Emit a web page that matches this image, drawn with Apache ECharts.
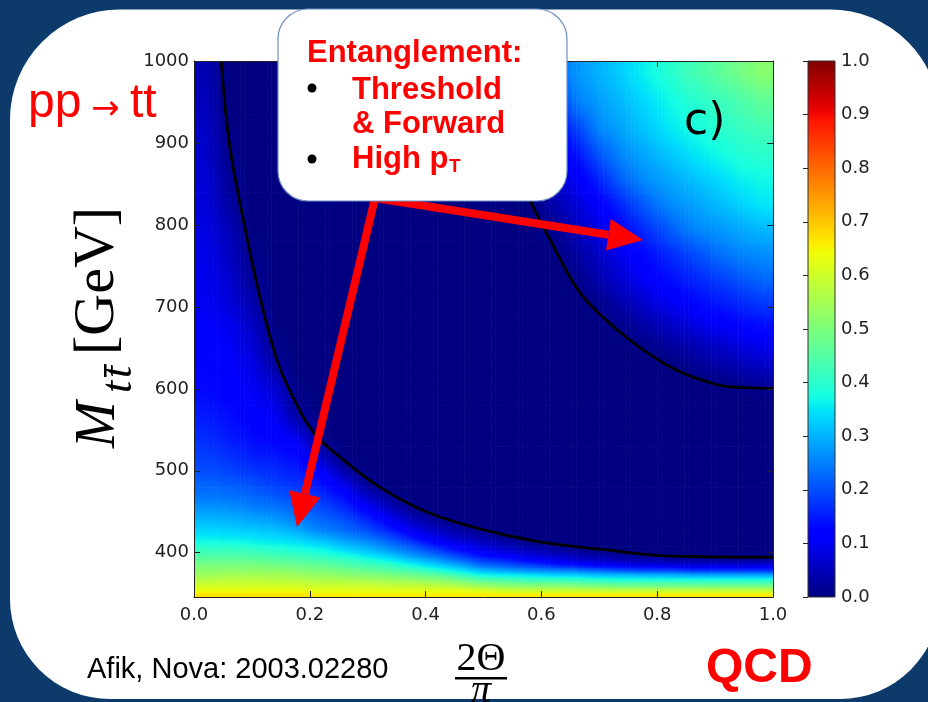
<!DOCTYPE html>
<html>
<head>
<meta charset="utf-8">
<title>Concurrence map, pp → tt̄ (QCD)</title>
<script src="https://cdn.jsdelivr.net/npm/echarts@6.0.0/dist/echarts.min.js"></script>
<style>
  html, body { margin: 0; padding: 0; background: #0b3a6b; }
  #chart { width: 928px; height: 702px; }
</style>
</head>
<body>
<div id="chart"></div>
<script>
// Cell edges of the concurrence map: 2Θ/π across, invariant mass (GeV) up.
const thetaEdges = [0, 0.04, 0.08, 0.12, 0.16, 0.2, 0.24, 0.28, 0.32, 0.36, 0.4, 0.44, 0.48, 0.52,
  0.56, 0.6, 0.64, 0.68, 0.72, 0.76, 0.8, 0.84, 0.88, 0.92, 0.96, 1];
const massEdges = [346, 352, 358, 364, 370, 376, 382, 388, 394, 400, 408, 416, 424, 432, 440, 450,
  460, 470, 480, 492, 504, 516, 530, 545, 560, 580, 600, 620, 640, 665, 690, 720, 750, 780, 810,
  840, 870, 900, 935, 970, 1000];

// Concurrence sampled at each cell centre, one row per mass bin (bottom row first).
const concurrence = [
  [.67,.67,.67,.67,.67,.66,.66,.66,.66,.66,.66,.66,.66,.66,.66,.66,.66,.66,.66,.66,.66,.66,.66,.66,.66],
  [.63,.63,.63,.63,.63,.62,.62,.62,.62,.62,.62,.62,.60,.58,.58,.58,.58,.57,.57,.57,.57,.57,.57,.57,.57],
  [.60,.60,.60,.60,.60,.59,.59,.59,.58,.58,.57,.55,.52,.51,.50,.50,.49,.48,.47,.47,.47,.47,.47,.47,.47],
  [.57,.58,.58,.57,.57,.56,.56,.55,.54,.53,.52,.49,.45,.44,.42,.42,.41,.40,.39,.39,.39,.39,.39,.39,.39],
  [.54,.55,.55,.55,.54,.53,.52,.51,.50,.48,.46,.42,.37,.36,.35,.33,.33,.31,.31,.30,.30,.29,.29,.29,.29],
  [.52,.52,.52,.52,.51,.50,.49,.47,.45,.43,.39,.35,.30,.28,.26,.25,.24,.22,.20,.19,.19,.17,.17,.17,.17],
  [.50,.50,.50,.49,.48,.47,.45,.43,.41,.37,.33,.29,.23,.21,.19,.16,.14,.11,.10,.09,.09,.08,.08,.08,.08],
  [.47,.47,.47,.46,.45,.44,.42,.39,.36,.32,.28,.23,.18,.16,.12,.10,.08,.065,.05,.044,.037,.03,.03,.03,.03],
  [.445,.445,.44,.43,.42,.40,.38,.35,.32,.27,.23,.18,.13,.105,.083,.062,.046,.032,.02,.011,.01,0,0,0,0],
  [.415,.415,.41,.40,.38,.37,.34,.31,.27,.23,.18,.13,.09,.07,.05,.03,.02,0,0,0,0,0,0,0,0],
  [.38,.38,.37,.36,.35,.33,.30,.27,.23,.18,.12,.09,.06,.04,.015,0,0,0,0,0,0,0,0,0,0],
  [.353,.35,.345,.335,.32,.29,.26,.23,.19,.13,.086,.054,.03,.007,0,0,0,0,0,0,0,0,0,0,0],
  [.335,.331,.323,.312,.29,.25,.23,.20,.15,.095,.054,.03,.01,0,0,0,0,0,0,0,0,0,0,0,0],
  [.315,.31,.30,.29,.264,.234,.213,.176,.12,.065,.03,.01,0,0,0,0,0,0,0,0,0,0,0,0,0],
  [.293,.29,.28,.264,.24,.216,.19,.145,.085,.036,.01,0,0,0,0,0,0,0,0,0,0,0,0,0,0],
  [.27,.267,.25,.24,.22,.196,.166,.11,.05,.01,0,0,0,0,0,0,0,0,0,0,0,0,0,0,0],
  [.25,.245,.234,.22,.20,.177,.142,.075,.028,0,0,0,0,0,0,0,0,0,0,0,0,0,0,0,0],
  [.233,.229,.216,.20,.183,.158,.117,.042,.005,0,0,0,0,0,0,0,0,0,0,0,0,0,0,0,0],
  [.22,.21,.20,.183,.169,.137,.082,.013,0,0,0,0,0,0,0,0,0,0,0,0,0,0,0,0,0],
  [.203,.193,.179,.169,.153,.114,.041,0,0,0,0,0,0,0,0,0,0,0,0,0,0,0,0,0,0],
  [.192,.18,.163,.155,.139,.08,.01,0,0,0,0,0,0,0,0,0,0,0,0,0,0,0,0,0,0],
  [.182,.167,.148,.14,.124,.042,0,0,0,0,0,0,0,0,0,0,0,0,0,0,0,0,0,0,0],
  [.17,.152,.137,.123,.103,.01,0,0,0,0,0,0,0,0,0,0,0,0,0,0,0,0,0,0,0],
  [.158,.144,.126,.111,.064,0,0,0,0,0,0,0,0,0,0,0,0,0,0,0,0,0,0,0,0],
  [.148,.135,.116,.098,.023,0,0,0,0,0,0,0,0,0,0,0,0,0,0,0,0,0,0,0,0],
  [.136,.125,.107,.079,.01,0,0,0,0,0,0,0,0,0,0,0,0,0,0,0,0,0,0,0,0],
  [.128,.117,.099,.056,0,0,0,0,0,0,0,0,0,0,0,0,0,0,0,0,0,0,.004,.017,.03],
  [.124,.111,.09,.025,0,0,0,0,0,0,0,0,0,0,0,0,0,0,0,0,0,.017,.032,.047,.062],
  [.12,.104,.077,.01,0,0,0,0,0,0,0,0,0,0,0,0,0,0,0,.005,.023,.041,.059,.078,.096],
  [.112,.097,.063,0,0,0,0,0,0,0,0,0,0,0,0,0,0,0,.011,.034,.057,.08,.103,.123,.134],
  [.10,.08,.04,0,0,0,0,0,0,0,0,0,0,0,0,0,0,.011,.04,.069,.098,.125,.143,.162,.18],
  [.095,.07,.02,0,0,0,0,0,0,0,0,0,0,0,0,0,.007,.041,.075,.11,.136,.159,.182,.205,.228],
  [.09,.06,.01,0,0,0,0,0,0,0,0,0,0,0,0,0,.028,.063,.098,.133,.164,.196,.228,.253,.264],
  [.085,.05,0,0,0,0,0,0,0,0,0,0,0,0,0,.013,.05,.087,.125,.169,.213,.253,.27,.288,.306],
  [.08,.03,0,0,0,0,0,0,0,0,0,0,0,0,0,.035,.075,.115,.165,.217,.258,.281,.304,.328,.35],
  [.073,.02,0,0,0,0,0,0,0,0,0,0,0,0,.014,.059,.103,.159,.222,.263,.287,.31,.334,.358,.37],
  [.067,.01,0,0,0,0,0,0,0,0,0,0,0,0,.032,.082,.137,.207,.26,.289,.317,.346,.368,.385,.40],
  [.06,.005,0,0,0,0,0,0,0,0,0,0,0,0,.057,.112,.186,.256,.288,.32,.352,.374,.393,.412,.43],
  [.052,0,0,0,0,0,0,0,0,0,0,0,0,.03,.09,.163,.25,.28,.31,.34,.37,.393,.417,.44,.467],
  [.045,0,0,0,0,0,0,0,0,0,0,0,0,.056,.12,.215,.27,.30,.33,.364,.395,.427,.457,.486,.515]
];

// Zero-concurrence contours, as (2Θ/π, M) points.
const contourLow = [[0.047,1000],[0.061,900],[0.087,800],[0.118,700],[0.143,636],[0.162,603],
  [0.205,548],[0.257,514],[0.321,480],[0.398,451],[0.494,429],[0.592,414],[0.706,404],[0.822,396],[1.0,394.5]];
const contourHigh = [[0.50,1000],[0.52,950],[0.545,900],[0.58,831],[0.615,782],[0.666,718],
  [0.736,669],[0.822,627],[0.903,605],[0.95,601.5],[1.0,600.5]];

// Matplotlib "jet" colour map.
const JET = {
  r: [[0, 0], [0.35, 0], [0.66, 1], [0.89, 1], [1, 0.5]],
  g: [[0, 0], [0.125, 0], [0.375, 1], [0.64, 1], [0.91, 0], [1, 0]],
  b: [[0, 0.5], [0.11, 1], [0.34, 1], [0.65, 0], [1, 0]]
};
function jetChannel(pts, t) {
  for (let i = 1; i < pts.length; i++) {
    if (t <= pts[i][0]) {
      const [x0, y0] = pts[i - 1], [x1, y1] = pts[i];
      return y0 + (y1 - y0) * (t - x0) / (x1 - x0);
    }
  }
  return pts[pts.length - 1][1];
}
function jet(t) {
  t = Math.max(0, Math.min(1, t));
  const c = ch => Math.round(255 * jetChannel(JET[ch], t));
  return `rgb(${c('r')},${c('g')},${c('b')})`;
}
const jetStops = [];
for (let i = 0; i <= 128; i++) jetStops.push({ offset: i / 128, color: jet(i / 128) });

// Sample points at cell centres.
const thetaCenters = thetaEdges.slice(0, -1).map((e, j) => (e + thetaEdges[j + 1]) / 2);
const massCenters = massEdges.slice(0, -1).map((e, i) => (e + massEdges[i + 1]) / 2);
const nCols = thetaCenters.length;
const samples = [];
concurrence.forEach((row, i) => row.forEach((v, j) => samples.push([thetaCenters[j], massCenters[i], v])));

// Gouraud-style shading between neighbouring samples (clamped at the plot edges).
function bracket(centers, v) {
  const n = centers.length;
  if (v <= centers[0]) return [0, 0, 0];
  if (v >= centers[n - 1]) return [n - 1, n - 1, 0];
  let k = 0;
  while (centers[k + 1] < v) k++;
  return [k, k + 1, (v - centers[k]) / (centers[k + 1] - centers[k])];
}
function shade(theta, m) {
  const [i0, i1, u] = bracket(massCenters, m);
  const [j0, j1, t] = bracket(thetaCenters, theta);
  const lo = concurrence[i0][j0] * (1 - t) + concurrence[i0][j1] * t;
  const hi = concurrence[i1][j0] * (1 - t) + concurrence[i1][j1] * t;
  return lo * (1 - u) + hi * u;
}
const STRIPS = 6;
function renderCell(params, api) {
  const k = params.dataIndex;
  const i = Math.floor(k / nCols), j = k % nCols;
  const x0 = thetaEdges[j], x1 = thetaEdges[j + 1];
  const m0 = massEdges[i], m1 = massEdges[i + 1], mc = api.value(1);
  const children = [];
  for (let s = 0; s < STRIPS; s++) {
    const xa = x0 + (x1 - x0) * s / STRIPS, xb = x0 + (x1 - x0) * (s + 1) / STRIPS;
    const xm = (xa + xb) / 2;
    const pa = api.coord([xa, m1]), pb = api.coord([xb, m0]);
    children.push({
      type: 'rect',
      shape: { x: pa[0], y: pa[1], width: pb[0] - pa[0] + 0.6, height: pb[1] - pa[1] + 0.6 },
      style: {
        fill: { type: 'linear', x: 0, y: 1, x2: 0, y2: 0, colorStops: [
          { offset: 0, color: jet(shade(xm, m0)) },
          { offset: (mc - m0) / (m1 - m0), color: jet(shade(xm, mc)) },
          { offset: 1, color: jet(shade(xm, m1)) }
        ] }
      }
    });
  }
  return { type: 'group', children };
}
function renderColorbar(params) {
  const cs = params.coordSys;
  return {
    type: 'rect',
    shape: { x: cs.x, y: cs.y, width: cs.width, height: cs.height },
    style: {
      fill: { type: 'linear', x: 0, y: 1, x2: 0, y2: 0, colorStops: jetStops },
      stroke: '#333', lineWidth: 1
    }
  };
}

const tickText = { fontFamily: 'DejaVu Sans', fontSize: 18, color: '#222' };
const frameLine = { show: true, onZero: false, lineStyle: { color: '#222', width: 1 } };
const innerTick = { show: true, inside: true, length: 6, lineStyle: { color: '#222', width: 1 } };

const RED = '#ff0000';
const serif = '"Liberation Serif", "DejaVu Serif", serif';
const sans = '"Liberation Sans", Arial, sans-serif';

const chart = echarts.init(document.getElementById('chart'));
chart.setOption({
  backgroundColor: '#0b3a6b',
  animation: false,
  grid: [
    { left: 194, top: 61, width: 579, height: 536 },
    { left: 808, top: 61, width: 27, height: 536 }
  ],
  xAxis: [
    { type: 'value', gridIndex: 0, position: 'bottom', min: 0, max: 1, interval: 0.2, z: 5,
      axisLine: frameLine, axisTick: innerTick, splitLine: { show: false },
      axisLabel: Object.assign({ margin: 9, formatter: v => v.toFixed(1) }, tickText) },
    { type: 'value', gridIndex: 0, position: 'top', min: 0, max: 1, interval: 0.2, z: 5,
      axisLine: frameLine, axisTick: innerTick, splitLine: { show: false }, axisLabel: { show: false } },
    { type: 'value', gridIndex: 1, min: 0, max: 1, show: false }
  ],
  yAxis: [
    { type: 'value', gridIndex: 0, position: 'left', min: 346, max: 1000, splitNumber: 6, z: 5,
      axisLine: frameLine, axisTick: innerTick, splitLine: { show: false },
      axisLabel: Object.assign({ margin: 5, showMinLabel: false, showMaxLabel: true,
        formatter: v => (v === 346 ? '' : String(v)) }, tickText) },
    { type: 'value', gridIndex: 0, position: 'right', min: 346, max: 1000, splitNumber: 6, z: 5,
      axisLine: frameLine, axisTick: innerTick, splitLine: { show: false }, axisLabel: { show: false } },
    { type: 'value', gridIndex: 1, position: 'right', min: 0, max: 1, interval: 0.1, z: 5,
      axisLine: { show: false }, splitLine: { show: false },
      axisTick: { show: true, inside: true, length: 5, lineStyle: { color: '#222' } },
      axisLabel: Object.assign({ margin: 6, formatter: v => v.toFixed(1) }, tickText) }
  ],
  series: [
    { type: 'custom', name: 'concurrence', xAxisIndex: 0, yAxisIndex: 0, data: samples,
      encode: { x: 0, y: 1 }, renderItem: renderCell, clip: true, silent: true, z: 2 },
    { type: 'line', name: 'C = 0 (low mass)', xAxisIndex: 0, yAxisIndex: 0, data: contourLow,
      symbol: 'none', smooth: 0.35, clip: true, silent: true, z: 3,
      lineStyle: { color: '#000', width: 2.8 } },
    { type: 'line', name: 'C = 0 (high mass)', xAxisIndex: 0, yAxisIndex: 0, data: contourHigh,
      symbol: 'none', smooth: 0.35, clip: true, silent: true, z: 3,
      lineStyle: { color: '#000', width: 2.8 } },
    { type: 'custom', name: 'colour bar', xAxisIndex: 2, yAxisIndex: 2, data: [[0.5, 0.5]],
      renderItem: renderColorbar, silent: true, z: 2 }
  ],
  graphic: [
    // slide panel
    { type: 'rect', z: -10, silent: true,
      shape: { x: 10, y: 9.5, width: 930, height: 689.5, r: [110, 110, 100, 100] },
      style: { fill: '#ffffff' } },

    // process label
    { type: 'text', z: 20, style: { text: 'pp', x: 28, y: 104, font: '48px ' + sans, fill: RED, textVerticalAlign: 'middle' } },
    { type: 'text', z: 20, style: { text: '→', x: 105.5, y: 110, font: '34px "DejaVu Sans"', fill: RED, textAlign: 'center', textVerticalAlign: 'middle' } },
    { type: 'text', z: 20, style: { text: 'tt', x: 130, y: 104, font: '48px ' + sans, fill: RED, textVerticalAlign: 'middle' } },

    // panel tag
    { type: 'text', z: 20, style: { text: 'c)', x: 684, y: 123, font: '44px "DejaVu Sans"', fill: '#000', textVerticalAlign: 'middle' } },

    // vertical axis title  M_{tt̄} [GeV]
    { type: 'group', x: 116, y: 448, rotation: Math.PI / 2, z: 20, children: [
      { type: 'text', z: 20, style: { text: 'M', x: 0, y: -17, font: 'italic 56px ' + serif, fill: '#000', textVerticalAlign: 'middle' } },
      { type: 'text', z: 20, style: { text: 't', x: 55, y: 3, font: 'italic 44px ' + serif, fill: '#000', textVerticalAlign: 'middle' } },
      { type: 'text', z: 20, style: { text: 't', x: 70, y: 3, font: 'italic 44px ' + serif, fill: '#000', textVerticalAlign: 'middle' } },
      { type: 'rect', z: 20, shape: { x: 71, y: -12, width: 13, height: 2.5 }, style: { fill: '#000' } },
      { type: 'text', z: 20, style: { text: '[GeV]', x: 93, y: -18, font: '58px ' + serif, fill: '#000', textVerticalAlign: 'middle' } }
    ] },

    // horizontal axis title 2Θ/π
    { type: 'text', z: 20, style: { text: '2Θ', x: 481, y: 659, font: '40px ' + serif, fill: '#000', textAlign: 'center', textVerticalAlign: 'middle' } },
    { type: 'rect', z: 20, shape: { x: 455, y: 677, width: 52, height: 2.5 }, style: { fill: '#000' } },
    { type: 'text', z: 20, style: { text: 'π', x: 481, y: 691, font: 'italic 40px ' + serif, fill: '#000', textAlign: 'center', textVerticalAlign: 'middle' } },

    // reference and theory tag
    { type: 'text', z: 20, style: { text: 'Afik, Nova: 2003.02280', x: 87, y: 670, font: '29px ' + sans, fill: '#000', textVerticalAlign: 'middle' } },
    { type: 'text', z: 20, style: { text: 'QCD', x: 706, y: 669, font: 'bold 48px ' + sans, fill: RED, textVerticalAlign: 'middle' } },

    // red arrows from the note to the entangled regions
    { type: 'polyline', z: 55, silent: true,
      shape: { points: [[608.4, 234.8], [375, 198], [304.9, 493.9]] },
      style: { stroke: RED, lineWidth: 8, fill: null, lineJoin: 'miter' } },
    { type: 'polygon', z: 55, silent: true,
      shape: { points: [[643, 240], [610.8, 219], [606, 250.6]] }, style: { fill: RED } },
    { type: 'polygon', z: 55, silent: true,
      shape: { points: [[297, 527], [320.5, 497.6], [289.3, 490.2]] }, style: { fill: RED } },

    // note box
    { type: 'rect', z: 60, silent: true,
      shape: { x: 278, y: 9, width: 289, height: 192, r: 30 },
      style: { fill: '#ffffff', stroke: '#6f8fc4', lineWidth: 1.2 } },
    { type: 'text', z: 61, style: { text: 'Entanglement:', x: 307, y: 53, font: 'bold 31px ' + sans, fill: RED, textVerticalAlign: 'middle' } },
    { type: 'circle', z: 61, shape: { cx: 312, cy: 88, r: 4.5 }, style: { fill: '#000' } },
    { type: 'text', z: 61, style: { text: 'Threshold', x: 352, y: 90, font: 'bold 31px ' + sans, fill: RED, textVerticalAlign: 'middle' } },
    { type: 'text', z: 61, style: { text: '& Forward', x: 352, y: 124.5, font: 'bold 31px ' + sans, fill: RED, textVerticalAlign: 'middle' } },
    { type: 'circle', z: 61, shape: { cx: 312, cy: 159, r: 4.5 }, style: { fill: '#000' } },
    { type: 'text', z: 61, style: { text: 'High p', x: 352, y: 159, font: 'bold 31px ' + sans, fill: RED, textVerticalAlign: 'middle' } },
    { type: 'text', z: 61, style: { text: 'T', x: 449, y: 167, font: 'bold 19px ' + sans, fill: RED, textVerticalAlign: 'middle' } }
  ]
});
</script>
</body>
</html>
